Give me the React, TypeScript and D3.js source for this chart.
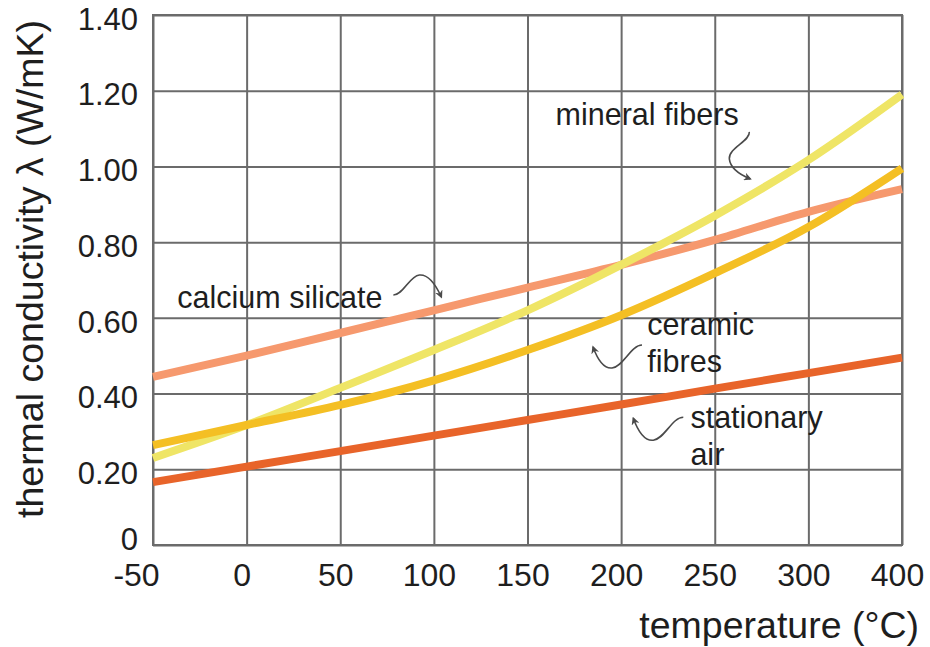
import React, { useEffect, useRef } from 'react';
import * as d3 from 'd3';

const width = 930;
const height = 647;
const margin = { left: 153, right: 28, top: 15, bottom: 102 };
const plotW = width - margin.left - margin.right;
const plotH = height - margin.top - margin.bottom;

// temperature (°C) ticks - note the last step jumps 300 -> 400
const temps = [-50, 0, 50, 100, 150, 200, 250, 300, 400];
const yTicks = [0, 0.2, 0.4, 0.6, 0.8, 1.0, 1.2, 1.4];

const stationaryAir = [0.166, 0.207, 0.248, 0.289, 0.33, 0.371, 0.413, 0.454, 0.495];
const calciumSilicate = [0.444, 0.5, 0.56, 0.62, 0.68, 0.74, 0.806, 0.88, 0.94];
const mineralFibers = [0.23, 0.317, 0.415, 0.515, 0.62, 0.74, 0.87, 1.017, 1.19];
const ceramicFibres = [0.264, 0.317, 0.37, 0.435, 0.515, 0.607, 0.718, 0.84, 0.995];

const seriesNames = ['calcium silicate', 'mineral fibers', 'ceramic fibres', 'stationary air'];
const seriesValues = [calciumSilicate, mineralFibers, ceramicFibres, stationaryAir];
const seriesColors = ['#f6996e', '#efe566', '#f4bf24', '#e8642a'];

// label lines, anchored in data units (temperature, conductivity)
const labelLines = [['mineral fibers'], ['calcium silicate'], ['ceramic', 'fibres'], ['stationary', 'air']];
const labelAnchors = [[165, 1.109], [-37, 0.626], [214, 0.555], [237, 0.309]];

// squiggly arrows: tip in data units, path drawn relative to the tip
const arrowTips = [[269, 0.967], [104, 0.655], [185, 0.523], [206.5, 0.335]];
const arrowPaths = [
  'M-1,-47 C0,-38 -22,-31 -21,-20 C-20,-11 -10,-4 0,0',
  'M-48,-2 C-38,-2 -32,-21 -22,-22 C-12,-23 -5,-11 0,0',
  'M49,-2 C38,-2 30,20 19,21 C10,22 4,11 0,0',
  'M50,-1 C39,-1 31,21 20,22 C11,23 4,11 0,0',
];

const font = '"Liberation Sans", Arial, Helvetica, sans-serif';

export default function App() {
  const ref = useRef<SVGSVGElement>(null);

  useEffect(() => {
    const svg = d3.select(ref.current);
    svg.selectAll('*').remove();

    const step = plotW / (temps.length - 1);
    const x = d3.scaleLinear()
      .domain([-50, 300, 400])
      .range([0, step * 7, step * 8]);
    const y = d3.scaleLinear().domain([0, 1.4]).range([plotH, 0]);

    const defs = svg.append('defs');
    defs.append('marker')
      .attr('id', 'arrowhead')
      .attr('viewBox', '0 0 10 10')
      .attr('refX', 8)
      .attr('refY', 5)
      .attr('markerWidth', 5)
      .attr('markerHeight', 5)
      .attr('orient', 'auto')
      .append('path')
      .attr('d', 'M0,0 L10,5 L0,10 L3,5 z')
      .attr('fill', '#4a4a4a');

    const g = svg.append('g').attr('transform', `translate(${margin.left},${margin.top})`);

    // grid
    const yAxis = d3.axisLeft(y).tickValues(yTicks).tickSize(-plotW)
      .tickFormat(d => (+d === 0 ? '0' : (+d).toFixed(2)));
    const yg = g.append('g').call(yAxis);
    yg.select('.domain').remove();
    yg.selectAll('line').attr('stroke', '#6b6b6b').attr('stroke-width', 2);
    yg.selectAll<SVGTextElement, number>('text')
      .attr('x', -15)
      .attr('dy', d => (d === 0 ? '0.14em' : '0.46em'))
      .attr('fill', '#1e1e1e')
      .style('font-family', font)
      .style('font-size', '31px');

    const xAxis = d3.axisBottom(x).tickValues(temps).tickSize(-plotH).tickFormat(d => String(d));
    const xg = g.append('g').attr('transform', `translate(0,${plotH})`).call(xAxis);
    xg.select('.domain').remove();
    xg.selectAll('line').attr('stroke', '#6b6b6b').attr('stroke-width', 2);
    xg.selectAll<SVGTextElement, number>('text')
      .attr('y', 41)
      .attr('dy', 0)
      .attr('dx', d => (d < 0 ? -17 : -5))
      .attr('fill', '#1e1e1e')
      .style('font-family', font)
      .style('font-size', '32px');

    g.append('rect')
      .attr('width', plotW)
      .attr('height', plotH)
      .attr('fill', 'none')
      .attr('stroke', '#6b6b6b')
      .attr('stroke-width', 2);

    // curves
    const line = d3.line<number>()
      .x((d, i) => x(temps[i]))
      .y(d => y(d))
      .curve(d3.curveMonotoneX);

    g.selectAll('path.series')
      .data(seriesValues)
      .enter()
      .append('path')
      .attr('class', 'series')
      .attr('fill', 'none')
      .attr('stroke', (d, i) => seriesColors[i])
      .attr('stroke-width', 8)
      .attr('d', d => line(d));

    // annotations
    arrowTips.forEach(([t, v], i) => {
      g.append('path')
        .attr('transform', `translate(${x(t)},${y(v)})`)
        .attr('d', arrowPaths[i])
        .attr('fill', 'none')
        .attr('stroke', '#4a4a4a')
        .attr('stroke-width', 1.6)
        .attr('marker-end', 'url(#arrowhead)');
    });

    labelLines.forEach((lines, i) => {
      const [t, v] = labelAnchors[i];
      const txt = g.append('text')
        .attr('x', x(t))
        .attr('y', y(v))
        .attr('fill', '#1e1e1e')
        .style('font-family', font)
        .style('font-size', '30.5px');
      lines.forEach((s, j) => {
        txt.append('tspan').attr('x', x(t)).attr('dy', j === 0 ? 0 : 37).text(s);
      });
    });

    // axis titles
    svg.append('text')
      .attr('x', 919)
      .attr('y', 638)
      .attr('text-anchor', 'end')
      .attr('fill', '#1e1e1e')
      .style('font-family', font)
      .style('font-size', '37.5px')
      .text('temperature (°C)');

    svg.append('text')
      .attr('transform', `translate(43,${margin.top + plotH / 2 - 11}) rotate(-90)`)
      .attr('text-anchor', 'middle')
      .attr('fill', '#1e1e1e')
      .style('font-family', font)
      .style('font-size', '37.5px')
      .text('thermal conductivity λ (W/mK)');
  }, []);

  return (
    <svg
      ref={ref}
      width={width}
      height={height}
      style={{ position: 'absolute', left: 0, top: 0, background: '#fff' }}
    />
  );
}
